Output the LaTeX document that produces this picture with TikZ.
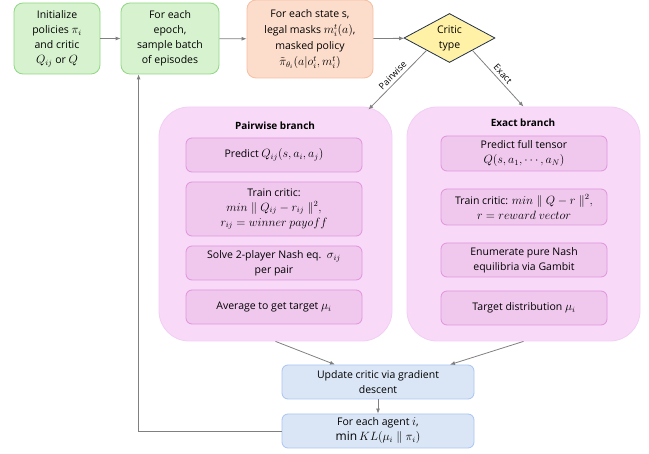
\documentclass[tikz,border=0pt]{standalone}
\usepackage{fontspec}
\setmainfont{Open Sans}
\DeclareMathSizes{10.5}{12}{8.5}{6.5}
\usetikzlibrary{shapes.geometric,arrows.meta,calc}
\definecolor{greenfill}{HTML}{D7F2CF}
\definecolor{greenline}{HTML}{90D883}
\definecolor{peachfill}{HTML}{FCDCCB}
\definecolor{peachline}{HTML}{F6BFA3}
\definecolor{critfill}{HTML}{FFF2A6}
\definecolor{critline}{HTML}{1F2F4A}
\definecolor{branchfill}{HTML}{F8DAF8}
\definecolor{branchline}{HTML}{F3CDF4}
\definecolor{stepfill}{HTML}{F0C8EE}
\definecolor{stepline}{HTML}{E094DC}
\definecolor{bluefill}{HTML}{DAE6F6}
\definecolor{blueline}{HTML}{A9C4F2}

\begin{document}
\begin{tikzpicture}[x=1pt,y=-1pt,>={Latex[length=5pt,width=4pt]},
    font=\fontsize{10.5}{15}\selectfont,
    every node/.style={align=center,inner sep=0pt,line width=0.8pt},
    greenbox/.style={draw=greenline, fill=greenfill, rounded corners=9pt},
    peachbox/.style={draw=peachline, fill=peachfill, rounded corners=9pt},
    branchbox/.style={draw=branchline, fill=branchfill, rounded corners=30pt},
    stepbox/.style={draw=stepline, fill=stepfill, rounded corners=6pt, minimum width=176pt},
    bluebox/.style={draw=blueline, fill=bluefill, rounded corners=6pt,
        minimum width=192pt, minimum height=34pt},
    flow/.style={->, draw=black!50, line width=0.8pt}]
    \useasboundingbox (0,0) rectangle (649,454);

    % top row
    \node[greenbox, minimum width=86pt, minimum height=71pt] (init) at (57,38.5)
        {Initialize\\policies $\pi_i$\\and critic\\$Q_{ij}$ or $Q$};
    \node[greenbox, minimum width=98pt, minimum height=71pt] (epoch) at (170,38.5)
        {For each\\epoch,\\sample batch\\of episodes};
    \node[peachbox, minimum width=126pt, minimum height=78pt,
        font=\fontsize{10.5}{16}\selectfont] (state) at (310,39)
        {For each state s,\\legal masks $m_i^t(a)$,\\masked policy\\$\tilde{\pi}_{\theta_i}(a|o_i^t,m_i^t)$};
    \node[diamond, aspect=2, draw=critline, fill=critfill,
        minimum width=91pt, minimum height=49pt] (crit) at (449.5,38) {Critic\\type};

    % the two branches
    \node[branchbox, minimum width=233pt, minimum height=234pt] (pair) at (275.5,224) {};
    \node[branchbox, minimum width=233pt, minimum height=234pt] (exact) at (523.5,224) {};
    \node[font=\fontsize{10}{15}\selectfont\bfseries] (pairT) at (275,126) {Pairwise branch};
    \node[font=\fontsize{10}{15}\selectfont\bfseries] (exactT) at (523,123) {Exact branch};

    % pairwise steps
    \node[stepbox, minimum height=34pt] (p1) at (274,155) {Predict $Q_{ij}(s,a_i,a_j)$};
    \node[stepbox, minimum height=54pt] (p2) at (274,209)
        {Train critic:\\$min \parallel Q_{ij}-r_{ij} \parallel^2,$\\$r_{ij}=winner\ payoff$};
    \node[stepbox, minimum height=34pt] (p3) at (274,263)
        {Solve 2-player Nash eq.\ \ $\sigma_{ij}$\\per pair};
    \node[stepbox, minimum height=34pt] (p4) at (274,307) {Average to get target $\mu_i$};

    % exact steps
    \node[stepbox, minimum width=166pt, minimum height=35pt] (e1) at (524,153.5)
        {Predict full tensor\\$Q(s,a_1,\cdots,a_N)$};
    \node[stepbox, minimum width=166pt, minimum height=36pt] (e2) at (524,207)
        {Train critic: $min \parallel Q-r \parallel^2,$\\$r=reward\ vector$};
    \node[stepbox, minimum width=166pt, minimum height=34pt] (e3) at (524,260)
        {Enumerate pure Nash\\equilibria via Gambit};
    \node[stepbox, minimum width=166pt, minimum height=34pt] (e4) at (524,308)
        {Target distribution $\mu_i$};

    % bottom boxes
    \node[bluebox] (upd) at (378,382) {Update critic via gradient\\descent};
    \node[bluebox] (agent) at (378,431) {For each agent $i$,\\$\min KL(\mu_i \parallel \pi_i)$};

    % connectors
    \draw[flow] (init) -- (epoch);
    \draw[flow] (epoch) -- (state);
    \draw[flow] (state) -- (crit);
    \draw[flow] (crit.south west) -- node[sloped, above=3pt, font=\fontsize{9}{11}\selectfont] {Pairwise}
        ($(pair.north east)+(-24,3)$);
    \draw[flow] (crit.south east) -- node[sloped, above=3pt, font=\fontsize{9}{11}\selectfont] {Exact}
        (exact.north);
    \draw[flow] (pair.south) -- ($(upd.north)+(-43,0)$);
    \draw[flow] (exact.south) -- ($(upd.north)+(72,0)$);
    \draw[flow] (upd) -- (agent);
    \draw[flow] (agent.west) -| ($(epoch.south west)+(18,0)$);
\end{tikzpicture}
\end{document}
